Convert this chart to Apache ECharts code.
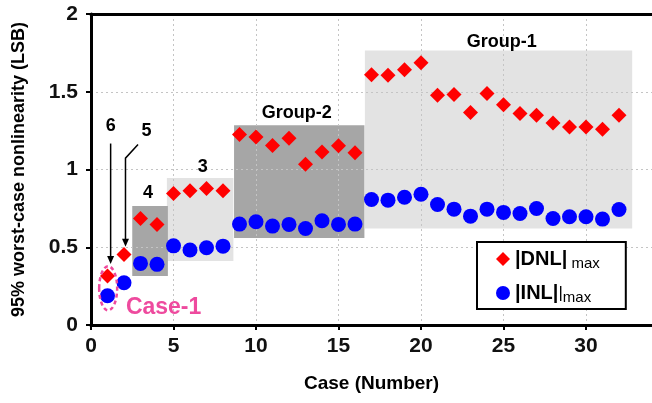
<!DOCTYPE html>
<html>
<head>
<meta charset="utf-8">
<script src="https://cdn.jsdelivr.net/npm/echarts@6/dist/echarts.min.js"></script>
<style>html,body{margin:0;padding:0;background:#fff;}#main{width:652px;height:403px;}</style>
</head>
<body>
<div id="main"></div>
<script>
// ---------- data ----------
const cases = [1,2,3,4,5,6,7,8,9,10,11,12,13,14,15,16,17,18,19,20,21,22,23,24,25,26,27,28,29,30,31,32];
const dnlMax = [0.315,0.454,0.685,0.647,0.846,0.863,0.878,0.863,1.225,1.209,1.154,1.201,1.034,1.113,1.152,1.107,
                1.610,1.606,1.642,1.687,1.477,1.482,1.366,1.488,1.417,1.360,1.349,1.299,1.274,1.274,1.259,1.349];
const inlMax = [0.188,0.272,0.396,0.390,0.509,0.482,0.497,0.507,0.649,0.664,0.636,0.647,0.621,0.670,0.647,0.649,
                0.807,0.803,0.822,0.841,0.775,0.745,0.700,0.745,0.724,0.717,0.749,0.685,0.696,0.696,0.681,0.743];
const xTicks = [0,5,10,15,20,25,30];
const yTicks = [0,0.5,1,1.5,2];
// group boxes in data units: [xStart, xEnd, yLow, yHigh]
const groupNames = ['Group-1','Group-2','3','4'];
const groupBoxes = [[16.6,32.8,0.62,1.766],[8.67,16.57,0.56,1.284],[4.6,8.63,0.411,0.946],[2.5,4.66,0.315,0.766]];

// ---------- styles ----------
const FONT = 'Liberation Sans';
const darkGroups = ['Group-2','4'];
const SHADE_LIGHT = '#e3e3e3', SHADE_DARK = '#a6a6a6';
const PINK = '#ee4a9e';

const chart = echarts.init(document.getElementById('main'));
const option = {
  animation: false,
  grid: {left: 91, right: -3.4, top: 14, bottom: 78},
  legend: {
    orient: 'vertical', left: 477, top: 242,
    padding: [5, 26, 4, 19], itemGap: 10, itemWidth: 14, itemHeight: 14, itemTextGap: 4,
    borderColor: '#000', borderWidth: 2, backgroundColor: '#fff',
    data: [{name: 'DNL', icon: 'diamond'}, {name: 'INL', icon: 'circle'}],
    formatter: n => n === 'DNL' ? '{b||DNL|}{s| max}' : '{b||INL|}{t||}{s|max}',
    textStyle: {
      fontFamily: FONT, color: '#000',
      rich: {
        b: {fontFamily: FONT, fontSize: 20, fontWeight: 'bold', lineHeight: 22, color: '#000'},
        t: {fontFamily: FONT, fontSize: 17, lineHeight: 22, color: '#000'},
        s: {fontFamily: FONT, fontSize: 15, lineHeight: 22, color: '#000', padding: [9, 0, 0, 0]}
      }
    }
  },
  xAxis: [{
    type: 'value', min: 0, max: 34, interval: 5, z: 1,
    axisLine: {onZero: false, lineStyle: {color: '#000', width: 3}},
    axisTick: {show: true, length: 5, lineStyle: {color: '#000', width: 2}},
    axisLabel: {showMaxLabel: false, margin: 11, fontFamily: FONT, fontSize: 21, fontWeight: 'bold', color: '#111',
      formatter: v => xTicks.includes(v) ? String(v) : ''},
    splitLine: {show: true, lineStyle: {color: '#c4c4c4', type: [2, 3], width: 1}},
    name: 'Case (Number)', nameLocation: 'middle', nameGap: 49,
    nameTextStyle: {fontFamily: FONT, fontSize: 19, fontWeight: 'bold', color: '#000'}
  }, {
    type: 'value', position: 'top', min: 0, max: 34, z: 1,
    axisLine: {show: true, onZero: false, lineStyle: {color: '#000', width: 3}},
    axisTick: {show: false}, axisLabel: {show: false}, splitLine: {show: false}
  }],
  yAxis: {
    type: 'value', min: 0, max: 2, interval: 0.5, z: 1,
    axisLine: {show: true, onZero: false, lineStyle: {color: '#000', width: 3}},
    axisTick: {show: true, length: 5, lineStyle: {color: '#000', width: 2}},
    axisLabel: {margin: 13, fontFamily: FONT, fontSize: 21, fontWeight: 'bold', color: '#111',
      formatter: v => yTicks.includes(v) ? String(v) : ''},
    splitLine: {show: true, lineStyle: {color: '#c4c4c4', type: [2, 3], width: 1}},
    name: '95% worst-case nonlinearity (LSB)', nameLocation: 'middle', nameGap: 63,
    nameTextStyle: {fontFamily: FONT, fontSize: 18, fontWeight: 'bold', color: '#000'}
  },
  series: [{
    type: 'custom', name: 'groups', z: 0, silent: true,
    data: groupBoxes,
    encode: {x: [0, 1], y: [2, 3]},
    renderItem: (params, api) => {
      const p0 = api.coord([api.value(0), api.value(3)]);
      const p1 = api.coord([api.value(1), api.value(2)]);
      const dark = darkGroups.includes(groupNames[params.dataIndex]);
      return {type: 'rect', shape: {x: p0[0], y: p0[1], width: p1[0] - p0[0], height: p1[1] - p0[1]},
              style: {fill: dark ? SHADE_DARK : SHADE_LIGHT}};
    }
  }, {
    type: 'scatter', name: 'DNL', z: 3, symbol: 'diamond', symbolSize: 15,
    itemStyle: {color: '#ff0000', opacity: 1},
    data: cases.map((c, i) => [c, dnlMax[i]])
  }, {
    type: 'scatter', name: 'INL', z: 3, symbol: 'circle', symbolSize: 15,
    itemStyle: {color: '#0000ff', opacity: 1},
    data: cases.map((c, i) => [c, inlMax[i]])
  }]
};
chart.setOption(option);

// ---------- annotations (data coordinates -> pixels) ----------
const P = (x, y) => chart.convertToPixel({gridIndex: 0}, [x, y]);
function txt(x, y, s, size, color) {
  const p = P(x, y);
  return {type: 'text', x: p[0], y: p[1], z: 10,
    style: {text: s, fontFamily: FONT, fontSize: size, fontWeight: 'bold', fill: color || '#000', align: 'center', verticalAlign: 'middle'}};
}
function arrowHead(x, y) {
  const p = P(x, y);
  return {type: 'polygon', z: 10, shape: {points: [[p[0] - 3.5, p[1] - 8], [p[0] + 3.5, p[1] - 8], [p[0], p[1]]]}, style: {fill: '#000'}};
}
function poly(pts) {
  return {type: 'polyline', z: 10, shape: {points: pts.map(q => P(q[0], q[1]))}, style: {stroke: '#000', lineWidth: 1.5, fill: null}};
}
const ec = P(1.04, 0.236);
const graphics = [
  txt(24.9, 1.818, 'Group-1', 18),
  txt(12.47, 1.362, 'Group-2', 18),
  txt(6.77, 1.017, '3', 18),
  txt(3.45, 0.846, '4', 18),
  txt(1.19, 1.278, '6', 18),
  txt(3.36, 1.248, '5', 18),
  poly([[1.19, 1.167], [1.19, 0.42]]),
  arrowHead(1.19, 0.392),
  poly([[2.85, 1.161], [2.09, 1.073], [2.09, 0.53]]),
  arrowHead(2.09, 0.503),
  {type: 'ellipse', z: 10, shape: {cx: ec[0], cy: ec[1], rx: 9, ry: 22},
   style: {fill: null, stroke: PINK, lineWidth: 2.5, lineDash: [4, 3]}},
  txt(4.4, 0.109, 'Case-1', 23, PINK)
];
chart.setOption({graphic: graphics});
</script>
</body>
</html>
